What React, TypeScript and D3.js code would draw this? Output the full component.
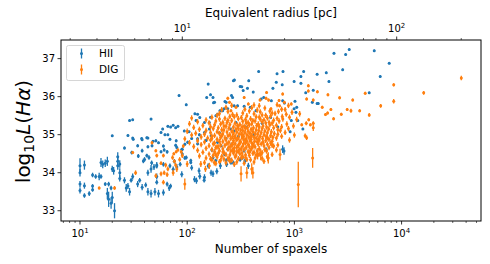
import React from 'react';
import * as d3 from 'd3';

const W = 490;
const H = 264;
const PLOT = { left: 61, right: 481, top: 40, bottom: 221 };

const xDomain: [number, number] = [6.65, 55050];
const yDomain: [number, number] = [32.73, 37.49];
const radiusFactor = 1.054; // equivalent radius [pc] = factor * sqrt(spaxels)

const xMajorTicks = [10, 100, 1000, 10000];
const yTicks = [33, 34, 35, 36, 37];
const rMajorTicks = [10, 100];

const xLabel = 'Number of spaxels';
const topLabel = 'Equivalent radius [pc]';
const seriesNames = ['HII', 'DIG'];
const seriesColors = ['#1f77b4', '#ff7f0e'];

// [spaxels, log10 L(Halpha), error]
const hiiPoints: [number, number, number][] = [
  [10, 34.18, 0.2], [10, 34.0, 0.1], [10, 33.7, 0.08], [10, 33.53, 0.08], [11, 34.2, 0.12], [11, 33.66, 0.08],
  [11, 33.4, 0.06], [12.2, 33.45, 0.06], [13.1, 33.94, 0.06], [13.1, 33.65, 0.05], [13.1, 33.55, 0.05],
  [14, 33.9, 0.06], [15.1, 33.9, 0.1], [15.7, 34.27, 0.12], [16.3, 34.22, 0.1], [17.2, 34.25, 0.1],
  [18, 34.3, 0.12], [15.7, 33.9, 0.06], [17.2, 33.7, 0.05], [18, 33.45, 0.15], [18.5, 33.3, 0.2],
  [19.5, 33.2, 0.15], [20, 33.35, 0.15], [21, 33.0, 0.2], [18.5, 33.7, 0.06], [19.5, 33.6, 0.06],
  [20, 34.1, 0.08], [20.6, 34.05, 0.1], [20, 34.97, 0.03], [22.5, 34.42, 0.12], [22.5, 34.3, 0.1],
  [22.5, 34.18, 0.1], [23.5, 34.23, 0.1], [23.5, 34.0, 0.12], [23.5, 33.85, 0.08], [26, 34.65, 0.04],
  [26, 33.8, 0.08], [27, 33.6, 0.1], [28, 33.65, 0.08], [29, 33.5, 0.1], [28, 34.98, 0.03], [30, 33.8, 0.06],
  [31, 33.9, 0.08], [31, 34.91, 0.03], [34.5, 34.71, 0.04], [34.5, 33.7, 0.08], [36, 33.8, 0.06],
  [38, 33.62, 0.08], [38, 34.58, 0.05], [38, 34.87, 0.03], [41, 33.68, 0.06], [43, 33.5, 0.1],
  [43, 34.68, 0.04], [43, 34.91, 0.03], [46, 33.45, 0.1], [47, 34.71, 0.04], [51, 34.84, 0.04],
  [40, 34.35, 0.06], [42, 34.45, 0.05], [44, 34.4, 0.06], [43, 34.0, 0.08], [46, 34.1, 0.1], [49, 34.15, 0.08],
  [52, 34.2, 0.08], [52, 33.9, 0.08], [52, 33.75, 0.06], [50, 33.5, 0.1], [57, 35.06, 0.03], [62, 35.0, 0.03],
  [66, 35.0, 0.03], [57, 34.55, 0.04], [61, 34.6, 0.04], [65, 34.55, 0.05], [65, 33.7, 0.06], [68, 33.6, 0.08],
  [70, 33.65, 0.06], [60, 33.48, 0.08], [54, 33.45, 0.1], [78, 34.72, 0.04], [79, 34.84, 0.04], [76, 34.3, 0.06],
  [80, 34.15, 0.08],
  [29, 35.37, 0.03], [31, 35.39, 0.03], [46, 35.41, 0.03], [59, 35.15, 0.03], [66, 35.22, 0.03], [70, 35.2, 0.03],
  [74, 35.25, 0.03], [78, 35.18, 0.03], [82, 35.22, 0.03], [84, 36.03, 0.03],
  [31.4, 34.88, 0.03], [37.6, 34.9, 0.03], [42, 34.92, 0.03], [48, 34.83, 0.03], [54, 34.79, 0.03],
  [60, 34.7, 0.04], [69, 34.88, 0.03], [80, 34.66, 0.04], [89, 34.61, 0.04], [95, 34.75, 0.04],
  [30.4, 34.53, 0.05], [35, 34.44, 0.05], [39, 34.31, 0.06], [46.6, 34.26, 0.06], [52, 34.18, 0.06],
  [60, 34.22, 0.06], [69, 34.18, 0.06], [74, 34.09, 0.07], [86, 34.22, 0.06], [89, 33.96, 0.08], [95, 34.39, 0.05],
  [110, 34.13, 0.07], [131, 33.91, 0.08], [157, 34.18, 0.07], [189, 34.04, 0.08], [233, 34.22, 0.07],
  [270, 34.26, 0.06], [312, 34.35, 0.06], [345, 34.31, 0.06],
  [98, 35.79, 0.03], [118, 35.55, 0.03], [125, 35.54, 0.03], [131, 35.45, 0.03], [121, 35.37, 0.03],
  [152, 35.98, 0.03], [157, 36.33, 0.03], [165, 36.05, 0.03], [174, 35.98, 0.03], [176, 35.84, 0.03],
  [180, 35.85, 0.03], [165, 35.46, 0.03], [192, 35.54, 0.03], [202, 35.63, 0.03], [207, 35.63, 0.03],
  [221, 35.68, 0.03], [231, 35.85, 0.03], [225, 35.87, 0.03], [239, 35.68, 0.03], [259, 36.03, 0.03],
  [265, 35.98, 0.03], [270, 36.42, 0.03], [276, 36.44, 0.03], [274, 35.76, 0.03], [295, 35.76, 0.03],
  [312, 36.27, 0.03], [323, 36.26, 0.03], [333, 36.16, 0.03], [340, 35.75, 0.03], [365, 36.22, 0.03],
  [375, 36.42, 0.03], [388, 35.72, 0.03], [413, 36.12, 0.03], [464, 36.66, 0.03], [490, 35.94, 0.03],
  [517, 35.98, 0.03], [610, 35.89, 0.03], [630, 36.22, 0.03], [678, 36.38, 0.03], [689, 36.6, 0.03],
  [770, 36.31, 0.03], [777, 35.89, 0.03], [783, 36.66, 0.03], [808, 35.83, 0.03], [994, 36.4, 0.03],
  [1013, 35.88, 0.03], [1051, 35.72, 0.03], [994, 35.68, 0.03], [1034, 35.59, 0.03], [1075, 35.37, 0.03],
  [936, 35.37, 0.03], [913, 35.08, 0.03], [438, 35.63, 0.03], [1150, 36.53, 0.03], [1150, 36.35, 0.03],
  [1220, 36.66, 0.03], [1630, 36.59, 0.03], [1985, 36.63, 0.03], [2100, 36.4, 0.03], [1275, 36.1, 0.03],
  [1500, 36.17, 0.03], [1470, 35.85, 0.03], [1630, 35.82, 0.03], [1670, 35.82, 0.03], [2340, 37.14, 0.03],
  [3006, 37.11, 0.03], [3250, 37.24, 0.03], [5560, 37.21, 0.03], [7670, 36.88, 0.03], [2820, 36.71, 0.03],
  [6320, 36.53, 0.03], [4990, 36.1, 0.03], [1200, 35.15, 0.03],
  [94, 35.1, 0.03], [104, 35.08, 0.03], [145, 35.32, 0.03], [161, 35.32, 0.03], [185, 35.5, 0.03],
  [214, 35.63, 0.03], [145, 35.06, 0.03], [161, 35.15, 0.03], [167, 34.97, 0.03], [125, 34.89, 0.04],
  [125, 34.76, 0.04], [101, 34.8, 0.04], [90, 34.62, 0.04], [90, 34.49, 0.05], [98, 34.4, 0.05],
  [108, 34.27, 0.05], [108, 34.32, 0.05], [192, 34.8, 0.04], [207, 34.71, 0.04], [256, 35.15, 0.03],
  [274, 35.1, 0.03], [285, 35.32, 0.03], [239, 34.62, 0.04], [222, 34.49, 0.05], [174, 34.4, 0.05],
  [185, 34.32, 0.05], [117, 33.83, 0.08], [122, 33.79, 0.08], [145, 33.88, 0.08], [144, 33.8, 0.06],
  [167, 34.0, 0.08], [174, 33.97, 0.08], [204, 34.18, 0.08], [231, 34.32, 0.06], [247, 34.36, 0.06],
  [256, 34.27, 0.06], [372, 34.18, 0.08], [777, 34.62, 0.1], [800, 34.57, 0.1], [129, 34.05, 0.08],
  [340, 34.58, 0.05], [328, 34.4, 0.06], [544, 34.62, 0.05],
  [110, 34.9, 0.04], [130, 35.0, 0.04], [150, 34.85, 0.04], [170, 34.6, 0.05], [200, 35.05, 0.04],
  [230, 34.9, 0.04], [260, 34.75, 0.04], [300, 34.95, 0.04], [350, 35.2, 0.04], [420, 35.0, 0.04],
  [500, 35.3, 0.04], [600, 35.45, 0.04], [700, 35.2, 0.04],
];

const digPoints: [number, number, number][] = [
  [15.1, 33.6, 0.04], [21, 33.6, 0.05], [31, 34.53, 0.04], [33, 34.0, 0.06], [51, 34.58, 0.04],
  [52, 34.45, 0.05], [57, 34.25, 0.05], [57, 33.97, 0.06], [61, 34.0, 0.06], [65, 33.95, 0.06],
  [60, 33.75, 0.06], [73, 34.4, 0.06], [76, 34.3, 0.05], [78, 34.2, 0.06], [80, 34.1, 0.08],
  [75, 34.5, 0.04], [79, 34.55, 0.04], [82, 34.6, 0.04], [95, 33.7, 0.15], [100, 34.23, 0.08],
  [47, 34.79, 0.04], [51, 33.92, 0.06], [74, 34.0, 0.08], [60, 34.45, 0.05], [63, 34.2, 0.06],
  [66, 34.1, 0.06], [85, 34.35, 0.06], [88, 34.55, 0.05], [92, 34.7, 0.05], [90, 34.45, 0.06],
  [134, 34.23, 0.08], [148, 34.1, 0.08], [161, 34.18, 0.08], [179, 34.27, 0.08], [318, 33.97, 0.2],
  [360, 34.0, 0.15], [400, 34.1, 0.15], [410, 34.0, 0.15], [454, 34.45, 0.1], [563, 34.4, 0.1],
  [485, 34.48, 0.15], [571, 34.39, 0.15], [735, 34.48, 0.15], [1087, 33.69, 0.6], [1480, 34.39, 0.26],
  [1260, 34.97, 0.06], [1300, 34.92, 0.06],
  [550, 36.11, 0.04], [777, 36.07, 0.04], [340, 35.98, 0.04], [478, 35.91, 0.04], [544, 35.96, 0.04],
  [574, 35.91, 0.04], [719, 35.9, 0.04], [806, 35.85, 0.04], [936, 35.81, 0.04], [239, 35.96, 0.04],
  [248, 35.85, 0.04], [727, 35.76, 0.04], [605, 35.68, 0.04], [256, 35.63, 0.04], [285, 35.72, 0.04],
  [372, 35.81, 0.04],
  [1350, 36.29, 0.04], [1350, 36.15, 0.04], [1640, 36.13, 0.04], [1300, 35.94, 0.04], [1500, 35.91, 0.04],
  [2055, 36.05, 0.04], [2640, 35.97, 0.04], [3500, 35.91, 0.04], [4580, 36.09, 0.04], [8440, 36.31, 0.04],
  [16070, 36.1, 0.05], [36060, 36.49, 0.06], [8440, 35.88, 0.06], [6380, 35.76, 0.05], [4060, 35.63, 0.04],
  [3370, 35.63, 0.05], [3110, 35.66, 0.04], [2190, 35.66, 0.04], [2040, 35.57, 0.04], [1950, 35.53, 0.04],
  [1820, 35.72, 0.04], [2740, 35.54, 0.04], [2320, 35.42, 0.04], [4990, 35.52, 0.05], [1360, 35.39, 0.04],
  [1290, 35.3, 0.05], [1410, 35.26, 0.04], [1500, 35.3, 0.05], [1500, 35.18, 0.08], [1170, 35.26, 0.04],
];

// dense DIG cloud: [spaxels, log10 L(Halpha)]
const digCloud: [number, number][] = [
  [420, 35.78], [690, 35.79],
  [260, 35.77], [470, 35.76], [880, 35.77],
  [230, 35.72], [400, 35.71], [530, 35.7], [760, 35.67],
  [210, 35.66], [345, 35.67], [450, 35.65], [590, 35.62], [820, 35.66],
  [240, 35.61], [380, 35.62], [480, 35.6], [620, 35.57], [710, 35.61], [950, 35.59],
  [200, 35.56], [265, 35.53], [330, 35.57], [420, 35.55], [500, 35.52], [660, 35.56], [840, 35.54], [1120, 35.55],
  [190, 35.51], [250, 35.48], [290, 35.52], [360, 35.5], [440, 35.47], [540, 35.51], [600, 35.49], [770, 35.48],
  [110, 35.44], [170, 35.46], [225, 35.43], [275, 35.47], [320, 35.45], [390, 35.42], [470, 35.46], [560, 35.44], [690, 35.43], [900, 35.46],
  [150, 35.39], [200, 35.41], [240, 35.38], [300, 35.42], [350, 35.4], [410, 35.37], [480, 35.41], [520, 35.39], [640, 35.38], [780, 35.41], [1050, 35.4],
  [125, 35.34], [185, 35.36], [215, 35.33], [260, 35.37], [330, 35.35], [370, 35.32], [430, 35.36], [500, 35.34], [580, 35.33], [720, 35.36],
  [105, 35.29], [160, 35.31], [205, 35.28], [235, 35.32], [280, 35.3], [310, 35.27], [355, 35.31], [400, 35.29], [460, 35.28], [540, 35.31], [620, 35.3], [850, 35.28],
  [140, 35.24], [180, 35.26], [220, 35.23], [250, 35.27], [295, 35.25], [340, 35.22], [380, 35.26], [445, 35.24], [510, 35.23], [590, 35.26], [680, 35.25], [980, 35.23],
  [115, 35.19], [165, 35.21], [195, 35.18], [230, 35.22], [270, 35.2], [300, 35.17], [325, 35.21], [365, 35.19], [415, 35.18], [470, 35.21], [550, 35.2], [640, 35.18], [760, 35.21],
  [130, 35.14], [175, 35.16], [210, 35.13], [245, 35.17], [285, 35.15], [315, 35.12], [350, 35.16], [395, 35.14], [440, 35.13], [500, 35.16], [575, 35.15], [700, 35.13], [880, 35.16],
  [100, 35.09], [150, 35.11], [190, 35.08], [220, 35.12], [260, 35.1], [290, 35.07], [330, 35.11], [370, 35.09], [410, 35.08], [465, 35.11], [530, 35.1], [610, 35.08], [740, 35.11],
  [120, 35.04], [165, 35.06], [200, 35.03], [235, 35.07], [270, 35.05], [305, 35.02], [345, 35.06], [385, 35.04], [430, 35.03], [490, 35.06], [560, 35.05], [650, 35.03], [820, 35.06],
  [110, 34.99], [145, 35.01], [180, 34.98], [215, 35.02], [250, 35.0], [280, 34.97], [320, 35.01], [360, 34.99], [400, 34.98], [455, 35.01], [520, 35.0], [600, 34.98], [700, 35.01], [1000, 34.99],
  [135, 34.94], [170, 34.96], [205, 34.93], [240, 34.97], [265, 34.95], [300, 34.92], [335, 34.96], [375, 34.94], [420, 34.93], [480, 34.96], [545, 34.95], [630, 34.93], [760, 34.96],
  [95, 34.89], [155, 34.91], [190, 34.88], [225, 34.92], [255, 34.9], [290, 34.87], [325, 34.91], [355, 34.89], [395, 34.88], [440, 34.91], [505, 34.9], [580, 34.88], [680, 34.91],
  [125, 34.84], [165, 34.86], [200, 34.83], [230, 34.87], [270, 34.85], [310, 34.82], [340, 34.86], [385, 34.84], [425, 34.83], [470, 34.86], [540, 34.85], [620, 34.83], [900, 34.86],
  [105, 34.79], [145, 34.81], [180, 34.78], [215, 34.82], [245, 34.8], [280, 34.77], [315, 34.81], [350, 34.79], [400, 34.78], [450, 34.81], [510, 34.8], [600, 34.78],
  [135, 34.74], [175, 34.76], [205, 34.73], [235, 34.77], [265, 34.75], [300, 34.72], [335, 34.76], [370, 34.74], [415, 34.73], [490, 34.76], [560, 34.75], [700, 34.73],
  [115, 34.69], [160, 34.71], [190, 34.68], [225, 34.72], [255, 34.7], [290, 34.67], [330, 34.71], [380, 34.69], [430, 34.68], [520, 34.71], [640, 34.7],
  [150, 34.64], [185, 34.66], [215, 34.63], [245, 34.67], [275, 34.65], [310, 34.62], [355, 34.66], [400, 34.64], [470, 34.63], [580, 34.66],
  [125, 34.59], [170, 34.61], [200, 34.58], [240, 34.62], [265, 34.6], [300, 34.57], [340, 34.61], [390, 34.59], [450, 34.58], [530, 34.61], [680, 34.6],
  [140, 34.54], [180, 34.56], [220, 34.53], [255, 34.57], [290, 34.55], [325, 34.52], [370, 34.56], [420, 34.54], [500, 34.53],
  [160, 34.49], [195, 34.51], [230, 34.48], [270, 34.52], [310, 34.5], [350, 34.47], [410, 34.51], [470, 34.49], [620, 34.48],
  [130, 34.44], [175, 34.46], [210, 34.43], [250, 34.47], [285, 34.45], [330, 34.42], [380, 34.46],
  [150, 34.39], [190, 34.41], [240, 34.38], [280, 34.42], [320, 34.4], [430, 34.39],
  [170, 34.34], [220, 34.36], [260, 34.33], [300, 34.37], [360, 34.35],
  [200, 34.29], [250, 34.31], [290, 34.28],
  [145, 34.27], [185, 34.24], [230, 34.26], [275, 34.22], [340, 34.25], [420, 34.28], [520, 34.3],
  [165, 34.37], [205, 34.33], [245, 34.36], [350, 34.4], [390, 34.34], [500, 34.38], [560, 34.43],
  [185, 34.48], [215, 34.55], [275, 34.58], [320, 34.63], [380, 34.53], [440, 34.47], [550, 34.57],
  [195, 34.68], [260, 34.73], [310, 34.78], [360, 34.83], [410, 34.7], [460, 34.75], [620, 34.72],
  [170, 34.9], [210, 34.97], [280, 34.92], [330, 34.98], [390, 34.93], [460, 34.88], [560, 34.92],
];
const digCloudErr = 0.07;

const FONT = 'DejaVu Sans, sans-serif';

function minorTicks(domain: [number, number]) {
  const out: number[] = [];
  for (let k = -1; k <= 5; k++) {
    for (let m = 2; m <= 9; m++) {
      const v = m * Math.pow(10, k);
      if (v >= domain[0] && v <= domain[1]) out.push(v);
    }
  }
  return out;
}

function Pow10({ v, x, y }: { v: number; x: number; y: number }) {
  const e = Math.round(Math.log10(v));
  return (
    <text x={x} y={y} textAnchor="middle" fontSize={10} fontFamily={FONT} fill="#000">
      <tspan>10</tspan>
      <tspan dy={-4.5} fontSize={7}>{e}</tspan>
    </text>
  );
}

export default function App() {
  const x = d3.scaleLog().domain(xDomain).range([PLOT.left, PLOT.right]);
  const rDomain: [number, number] = [radiusFactor * Math.sqrt(xDomain[0]), radiusFactor * Math.sqrt(xDomain[1])];
  const xr = d3.scaleLog().domain(rDomain).range([PLOT.left, PLOT.right]);
  const y = d3.scaleLinear().domain(yDomain).range([PLOT.bottom, PLOT.top]);

  const hii = hiiPoints;
  const dig: [number, number, number][] = [
    ...digPoints,
    ...digCloud.map(([n, l]) => [n, l, digCloudErr] as [number, number, number]),
  ];

  const drawSeries = (pts: [number, number, number][], color: string, key: string) => (
    <g key={key}>
      {pts.map(([n, l, e], i) => (
        <g key={i}>
          <line x1={x(n)} x2={x(n)} y1={y(l - e)} y2={y(l + e)} stroke={color} strokeWidth={1.3} />
          <circle cx={x(n)} cy={y(l)} r={1.5} fill={color} />
        </g>
      ))}
    </g>
  );

  const axisColor = '#000';
  return (
    <svg width={W} height={H} style={{ position: 'absolute', left: 0, top: 0, background: '#fff' }}>
      <rect x={0} y={0} width={W} height={H} fill="#fff" />
      <defs>
        <clipPath id="plotclip">
          <rect x={PLOT.left} y={PLOT.top} width={PLOT.right - PLOT.left} height={PLOT.bottom - PLOT.top} />
        </clipPath>
      </defs>
      <g clipPath="url(#plotclip)">
        {drawSeries(hii, seriesColors[0], 'hii')}
        {drawSeries(dig, seriesColors[1], 'dig')}
      </g>

      {/* frame */}
      <rect x={PLOT.left} y={PLOT.top} width={PLOT.right - PLOT.left} height={PLOT.bottom - PLOT.top}
        fill="none" stroke={axisColor} strokeWidth={1} />

      {/* bottom axis */}
      {xMajorTicks.map((t) => (
        <g key={'xb' + t}>
          <line x1={x(t)} x2={x(t)} y1={PLOT.bottom} y2={PLOT.bottom + 3.5} stroke={axisColor} strokeWidth={0.8} />
          <Pow10 v={t} x={x(t)} y={PLOT.bottom + 16} />
        </g>
      ))}
      {minorTicks(xDomain).map((t) => (
        <line key={'xm' + t} x1={x(t)} x2={x(t)} y1={PLOT.bottom} y2={PLOT.bottom + 2} stroke={axisColor} strokeWidth={0.6} />
      ))}
      <text x={(PLOT.left + PLOT.right) / 2} y={253} textAnchor="middle" fontSize={12} fontFamily={FONT}>{xLabel}</text>

      {/* top axis */}
      {rMajorTicks.map((t) => (
        <g key={'xt' + t}>
          <line x1={xr(t)} x2={xr(t)} y1={PLOT.top} y2={PLOT.top - 3.5} stroke={axisColor} strokeWidth={0.8} />
          <Pow10 v={t} x={xr(t)} y={PLOT.top - 8} />
        </g>
      ))}
      {minorTicks(rDomain).map((t) => (
        <line key={'rm' + t} x1={xr(t)} x2={xr(t)} y1={PLOT.top} y2={PLOT.top - 2} stroke={axisColor} strokeWidth={0.6} />
      ))}
      <text x={(PLOT.left + PLOT.right) / 2} y={17} textAnchor="middle" fontSize={12} fontFamily={FONT}>{topLabel}</text>

      {/* left axis */}
      {yTicks.map((t) => (
        <g key={'y' + t}>
          <line x1={PLOT.left} x2={PLOT.left - 3.5} y1={y(t)} y2={y(t)} stroke={axisColor} strokeWidth={0.8} />
          <text x={PLOT.left - 6} y={y(t)} dy="0.35em" textAnchor="end" fontSize={10} fontFamily={FONT}>{t}</text>
        </g>
      ))}
      <text transform={`translate(30, ${(PLOT.top + PLOT.bottom) / 2 + 1}) rotate(-90)`} textAnchor="middle" fontSize={20} fontFamily={FONT}>
        <tspan>log</tspan>
        <tspan fontSize={14} dy={4}>10</tspan>
        <tspan dy={-4} fontStyle="italic">L</tspan>
        <tspan>(</tspan>
        <tspan fontStyle="italic">Hα</tspan>
        <tspan>)</tspan>
      </text>

      {/* legend */}
      <rect x={66.5} y={45.5} width={58} height={35} rx={2} fill="#fff" fillOpacity={0.8} stroke="#cccccc" strokeWidth={0.8} />
      {seriesNames.map((name, i) => {
        const cy = 53.5 + i * 16;
        return (
          <g key={name}>
            <line x1={81.5} x2={81.5} y1={cy - 5} y2={cy + 5} stroke={seriesColors[i]} strokeWidth={1.3} />
            <circle cx={81.5} cy={cy} r={1.5} fill={seriesColors[i]} />
            <text x={99} y={cy} dy="0.35em" fontSize={10.5} fontFamily={FONT}>{name}</text>
          </g>
        );
      })}
    </svg>
  );
}
